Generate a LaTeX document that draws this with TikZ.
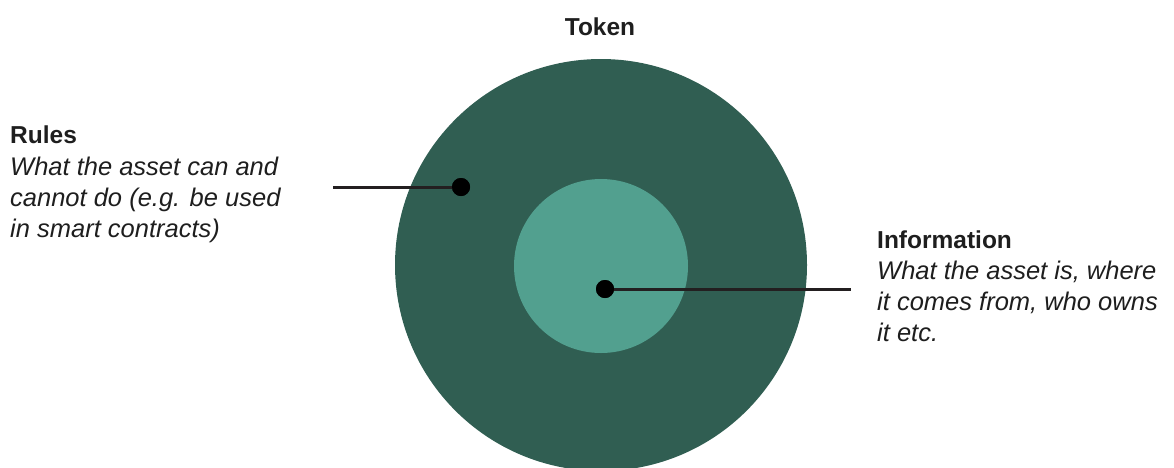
\documentclass[tikz,border=0pt]{standalone}
\usepackage{fontspec}
\setmainfont{Liberation Sans}
\definecolor{outergreen}{HTML}{305E52}
\definecolor{innergreen}{HTML}{52A08F}
\definecolor{linecol}{HTML}{231F20}
\definecolor{textcol}{HTML}{1E1E1E}
\begin{document}
\begin{tikzpicture}[x=1pt,y=-1pt,
  title/.style={anchor=base west,inner sep=0pt,font=\fontsize{24.5}{31}\selectfont\bfseries,text=textcol},
  desc/.style={anchor=base west,inner sep=0pt,font=\fontsize{25.5}{31}\selectfont\itshape,text=textcol},
  dot/.style={circle,fill=black,inner sep=0pt,minimum size=18pt},
  conn/.style={draw=linecol,line width=3pt}]
\useasboundingbox (0,0) rectangle (1174,467);
\begin{scope}
\clip (0,0) rectangle (1174,467);
\fill[outergreen] (601,265) circle (206);
\end{scope}
\fill[innergreen] (601,266) circle (87);
% Token
\node[title,anchor=base] (token) at (600,35) {Token};
% Rules
\node[title] (rulestitle) at (10,143) {Rules};
\node[desc] (rules1) at (10,175) {What the asset can and};
\node[desc] (rules2) at (10,206) {cannot do (e.g. be used};
\node[desc] (rules3) at (10,237) {in smart contracts)};
% Information
\node[title] (infotitle) at (877,248) {Information};
\node[desc] (info1) at (877,279) {What the asset is, where};
\node[desc] (info2) at (877,310) {it comes from, who owns};
\node[desc] (info3) at (877,341) {it etc.};
% connectors
\coordinate (rulesend) at (333,187);
\coordinate (infoend) at (851,289);
\node[dot] (rulesdot) at (461,187) {};
\node[dot] (infodot) at (605,289) {};
\draw[conn] (rulesend) -- (rulesdot.center);
\draw[conn] (infodot.center) -- (infoend);
\node[dot] at (rulesdot) {};
\node[dot] at (infodot) {};
\end{tikzpicture}
\end{document}
